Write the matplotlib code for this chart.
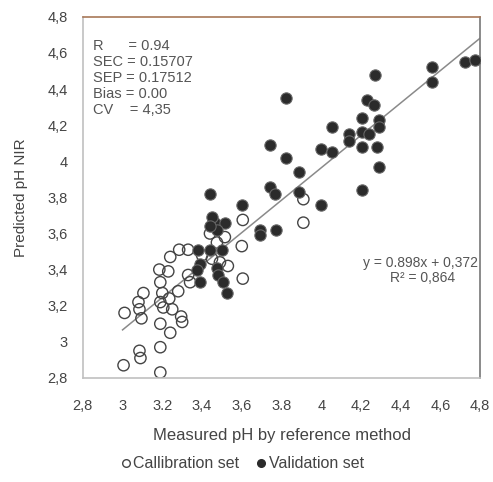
import matplotlib
matplotlib.use("Agg")
import matplotlib.pyplot as plt
from matplotlib.lines import Line2D

plt.rcParams['font.family'] = ['Liberation Sans', 'DejaVu Sans']

# calibration set (open circles)
cal_x = [3.01, 3.005, 3.085, 3.09, 3.19, 3.19, 3.24, 3.19, 3.105, 3.08,
         3.085, 3.095, 3.19, 3.185, 3.23, 3.20, 3.19, 3.205, 3.235, 3.25,
         3.295, 3.30, 3.28, 3.24, 3.285, 3.33, 3.34, 3.33, 3.60, 3.605,
         3.53, 3.49, 3.40, 3.515, 3.475, 3.605, 3.91, 3.91, 3.44, 3.45]
cal_y = [3.16, 2.87, 2.95, 2.91, 2.83, 2.97, 3.05, 3.10, 3.27, 3.22,
         3.18, 3.13, 3.33, 3.40, 3.39, 3.27, 3.22, 3.19, 3.24, 3.18,
         3.14, 3.11, 3.28, 3.47, 3.51, 3.51, 3.33, 3.37, 3.53, 3.35,
         3.42, 3.44, 3.48, 3.58, 3.55, 3.675, 3.79, 3.66, 3.60, 3.46]

# validation set (filled circles)
val_x = [4.27, 4.555, 4.555, 4.725, 4.775, 3.825, 4.23, 4.265, 4.205, 4.29,
         4.29, 4.055, 4.14, 4.14, 4.205, 4.24, 4.205, 4.28, 4.29, 4.205,
         3.74, 3.825, 4.00, 4.055, 3.89, 3.74, 3.765, 3.89, 4.00, 3.60,
         3.44, 3.69, 3.77, 3.69, 3.465, 3.515, 3.475, 3.50, 3.44, 3.38,
         3.39, 3.375, 3.475, 3.48, 3.39, 3.505, 3.525, 3.45, 3.44]
val_y = [4.48, 4.52, 4.44, 4.55, 4.56, 4.35, 4.34, 4.31, 4.24, 4.23,
         4.19, 4.19, 4.15, 4.11, 4.16, 4.15, 4.08, 4.08, 3.97, 3.84,
         4.09, 4.02, 4.07, 4.05, 3.94, 3.86, 3.82, 3.83, 3.76, 3.76,
         3.82, 3.62, 3.62, 3.59, 3.66, 3.66, 3.62, 3.51, 3.51, 3.51,
         3.43, 3.40, 3.41, 3.37, 3.33, 3.33, 3.27, 3.69, 3.64]

# regression line shown on the chart
slope = 0.898
intercept = 0.372
line_x = [3.0, 4.8]

ticks = [2.8, 3.0, 3.2, 3.4, 3.6, 3.8, 4.0, 4.2, 4.4, 4.6, 4.8]
xtick_labels = ["2,8", "3", "3.2", "3,4", "3,6", "3.8", "4", "4,2", "4,4", "4,6", "4,8"]
ytick_labels = ["2,8", "3", "3,2", "3,4", "3,6", "3,8", "4", "4,2", "4,4", "4,6", "4,8"]

stats_text = "R      = 0.94\nSEC = 0.15707\nSEP = 0.17512\nBias = 0.00\nCV    = 4,35"

fig = plt.figure(figsize=(4.93, 4.82), dpi=100)
ax = fig.add_axes([0.168, 0.216, 0.806, 0.749])

ax.plot(line_x, [slope * v + intercept for v in line_x], color='#8a8a8a', lw=1.1, zorder=1)

ax.scatter(cal_x, cal_y, s=66, facecolors='none', edgecolors='#444444', linewidths=1.0, zorder=2)
ax.scatter(val_x, val_y, s=66, facecolors='#2b2b2b', edgecolors='#666666', linewidths=0.8, zorder=3)

ax.set_xlim(2.8, 4.8)
ax.set_ylim(2.8, 4.8)
ax.set_xticks(ticks)
ax.set_xticklabels(xtick_labels)
ax.set_yticks(ticks)
ax.set_yticklabels(ytick_labels)
ax.tick_params(length=0, labelsize=10.5, colors='#444444')
ax.tick_params(axis='x', pad=15)
ax.tick_params(axis='y', pad=11)

ax.spines['top'].set_color('#a87858')
ax.spines['right'].set_color('#777777')
ax.spines['left'].set_color('#c0c0c0')
ax.spines['bottom'].set_color('#c0c0c0')
for s in ax.spines.values():
    s.set_linewidth(1.2)

ax.set_xlabel("Measured pH by reference method", fontsize=12, color='#444444', labelpad=11)
ax.set_ylabel("Predicted pH NIR", fontsize=11, color='#444444', labelpad=14)

ax.text(0.025, 0.94, stats_text, transform=ax.transAxes, fontsize=10.5,
        color='#555555', va='top', ha='left', linespacing=1.2)
ax.text(0.995, 0.319, "y = 0.898x + 0,372", transform=ax.transAxes, fontsize=10,
        color='#555555', ha='right', va='center')
ax.text(0.855, 0.277, "R² = 0,864", transform=ax.transAxes, fontsize=10,
        color='#555555', ha='center', va='center')

handles = [
    Line2D([], [], marker='o', ls='none', markersize=5.5, markerfacecolor='none',
           markeredgecolor='#444444', label='Callibration set'),
    Line2D([], [], marker='o', ls='none', markersize=5.5, markerfacecolor='#2b2b2b',
           markeredgecolor='#2b2b2b', label='Validation set'),
]
leg = fig.legend(handles=handles, loc='center', bbox_to_anchor=(0.49, 0.038), ncol=2,
                 frameon=False, fontsize=11.5, handletextpad=0.05, columnspacing=1.0,
                 handlelength=0.8)
for t in leg.get_texts():
    t.set_color('#444444')

fig.savefig("out.png", dpi=100)
